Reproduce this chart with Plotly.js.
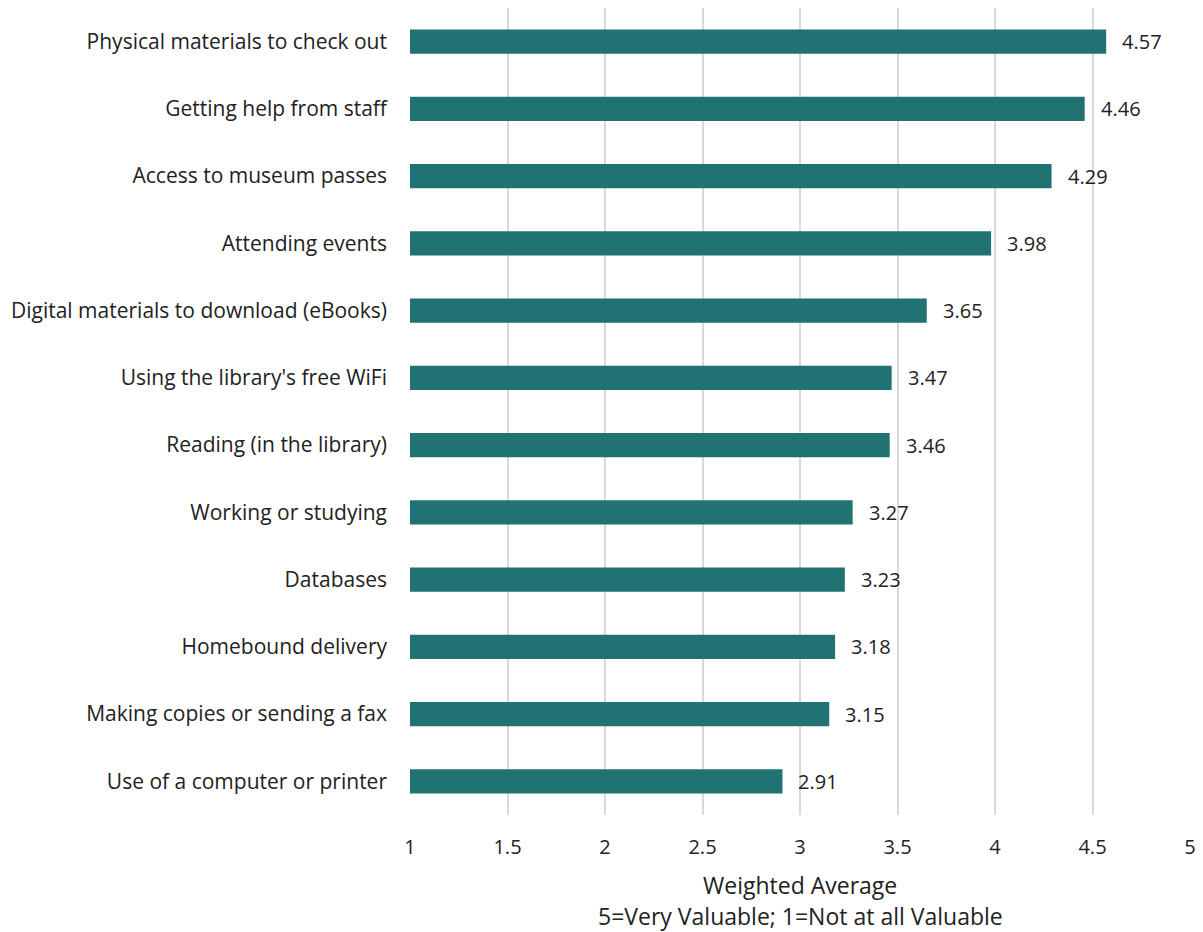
<!DOCTYPE html>
<html>
<head>
<meta charset="utf-8">
<script src="https://cdn.plot.ly/plotly-3.0.1.min.js"></script>
<style>html,body{margin:0;padding:0;background:#fff;}#chart{width:1203px;height:932px;}</style>
</head>
<body>
<div id="chart"></div>
<script>
const categories = [
  "Physical materials to check out",
  "Getting help from staff",
  "Access to museum passes",
  "Attending events",
  "Digital materials to download (eBooks)",
  "Using the library's free WiFi",
  "Reading (in the library)",
  "Working or studying",
  "Databases",
  "Homebound delivery",
  "Making copies or sending a fax",
  "Use of a computer or printer"
];
const values = [4.57, 4.46, 4.29, 3.98, 3.65, 3.47, 3.46, 3.27, 3.23, 3.18, 3.15, 2.91];
const tickVals = [1, 1.5, 2, 2.5, 3, 3.5, 4, 4.5, 5];
const tickText = ["1", "1.5", "2", "2.5", "3", "3.5", "4", "4.5", "5"];
const axisTitleLines = ["Weighted Average", "5=Very Valuable; 1=Not at all Valuable"];

const FONT = "'Open Sans', sans-serif";
const FS = 20;
const trace = {
  type: "bar",
  orientation: "h",
  y: categories,
  x: values.map(v => v - 1),
  base: 1,
  width: 0.36,
  marker: {color: "#217373"},
  hoverinfo: "skip"
};
const annotations = values.map((v, i) => ({
  x: v, y: categories[i], xref: "x", yref: "y",
  text: v.toFixed(2), showarrow: false,
  xanchor: "left", yanchor: "middle", xshift: 14,
  font: {family: FONT, size: FS, color: "#222"}
}));
axisTitleLines.forEach((t, i) => annotations.push({
  x: 0.5, y: 0, xref: "paper", yref: "paper",
  text: t, showarrow: false, xanchor: "center", yanchor: "middle",
  yshift: -70 - 31 * i,
  font: {family: FONT, size: 23, color: "#222"}
}));
const layout = {
  width: 1203, height: 932,
  margin: {l: 410, r: 13, t: 8, b: 117},
  paper_bgcolor: "#fff", plot_bgcolor: "#fff",
  showlegend: false,
  font: {family: FONT, size: FS, color: "#222"},
  annotations: annotations,
  xaxis: {
    range: [1, 5],
    tickvals: tickVals, ticktext: tickText,
    showgrid: true, gridcolor: "#d9d9d9", gridwidth: 2,
    zeroline: false, showline: false,
    ticks: "", ticklabelstandoff: 18,
    tickfont: {family: FONT, size: FS, color: "#222"}
  },
  yaxis: {
    autorange: "reversed",
    categoryorder: "array", categoryarray: categories,
    ticks: "", showline: false, showgrid: false,
    tickfont: {family: FONT, size: 21, color: "#222"},
    ticklabelstandoff: 22
  }
};
Plotly.newPlot("chart", [trace], layout, {displayModeBar: false, staticPlot: true});
</script>
</body>
</html>
